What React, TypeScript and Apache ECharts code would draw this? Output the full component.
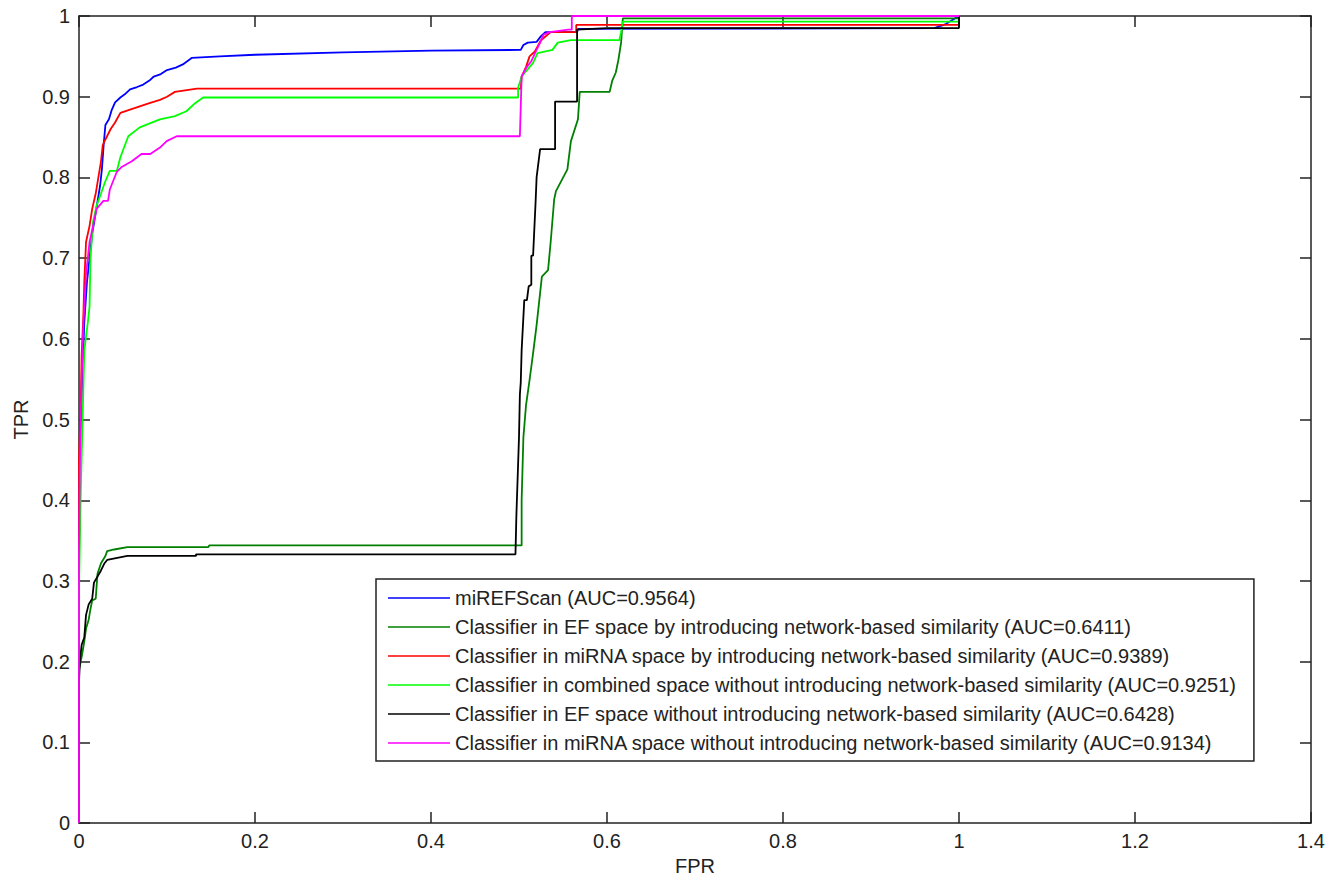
import React, { useEffect, useRef } from "react";
import * as echarts from "echarts";

// ---- Data (FPR, TPR) ----
const seriesNames = [
  "miREFScan (AUC=0.9564)",
  "Classifier in EF space by introducing network-based similarity (AUC=0.6411)",
  "Classifier in miRNA space by introducing network-based similarity (AUC=0.9389)",
  "Classifier in combined space without introducing network-based similarity (AUC=0.9251)",
  "Classifier in EF space without introducing network-based similarity (AUC=0.6428)",
  "Classifier in miRNA space without introducing network-based similarity (AUC=0.9134)",
];
const seriesColors = ["#0000ff", "#008000", "#ff0000", "#00ff00", "#000000", "#ff00ff"];

const miREFScan = [
  [0, 0], [0, 0.42], [0.002, 0.5], [0.004, 0.56], [0.006, 0.62], [0.009, 0.67], [0.012, 0.7],
  [0.015, 0.73], [0.018, 0.75], [0.021, 0.77], [0.024, 0.79], [0.026, 0.81], [0.028, 0.84],
  [0.03, 0.865], [0.034, 0.872], [0.037, 0.883], [0.041, 0.893], [0.047, 0.899], [0.052, 0.903],
  [0.058, 0.909], [0.066, 0.912], [0.073, 0.915], [0.08, 0.92], [0.085, 0.925], [0.093, 0.928],
  [0.1, 0.933], [0.11, 0.936], [0.118, 0.94], [0.128, 0.948], [0.16, 0.95], [0.2, 0.952],
  [0.3, 0.955], [0.4, 0.957], [0.502, 0.958], [0.505, 0.964], [0.51, 0.967], [0.52, 0.968],
  [0.525, 0.975], [0.53, 0.98], [0.566, 0.98], [0.567, 0.984], [0.972, 0.985], [0.985, 0.99], [1, 1],
];
const efNetwork = [
  [0, 0], [0, 0.19], [0.002, 0.2], [0.004, 0.212], [0.006, 0.225], [0.008, 0.241], [0.011, 0.252],
  [0.013, 0.265], [0.015, 0.276], [0.019, 0.278], [0.021, 0.309], [0.025, 0.322], [0.03, 0.331],
  [0.032, 0.337], [0.04, 0.339], [0.055, 0.342], [0.147, 0.342], [0.148, 0.344], [0.503, 0.344],
  [0.503, 0.4], [0.505, 0.478], [0.508, 0.518], [0.512, 0.549], [0.516, 0.582], [0.52, 0.617],
  [0.526, 0.677], [0.533, 0.685], [0.536, 0.72], [0.54, 0.773], [0.542, 0.783], [0.555, 0.81],
  [0.559, 0.845], [0.567, 0.872], [0.569, 0.906], [0.603, 0.906], [0.606, 0.92], [0.61, 0.93],
  [0.613, 0.946], [0.616, 0.967], [0.618, 0.997], [1, 0.997], [1, 1],
];
const mirnaNetwork = [
  [0, 0], [0, 0.45], [0.002, 0.52], [0.003, 0.58], [0.005, 0.63], [0.006, 0.67], [0.008, 0.72],
  [0.012, 0.74], [0.015, 0.761], [0.019, 0.78], [0.022, 0.8], [0.025, 0.82], [0.027, 0.84],
  [0.03, 0.847], [0.036, 0.86], [0.041, 0.868], [0.047, 0.88], [0.058, 0.884], [0.069, 0.888],
  [0.08, 0.892], [0.092, 0.896], [0.1, 0.9], [0.109, 0.906], [0.134, 0.91], [0.502, 0.91],
  [0.503, 0.925], [0.508, 0.937], [0.512, 0.95], [0.518, 0.956], [0.525, 0.97], [0.536, 0.98],
  [0.565, 0.98], [0.565, 0.989], [1, 0.989], [1, 1],
];
const combinedNoNetwork = [
  [0, 0], [0, 0.29], [0.002, 0.41], [0.004, 0.497], [0.006, 0.585], [0.01, 0.62], [0.012, 0.64],
  [0.013, 0.7], [0.016, 0.745], [0.02, 0.765], [0.025, 0.78], [0.0295, 0.794], [0.035, 0.808],
  [0.043, 0.808], [0.047, 0.825], [0.056, 0.851], [0.069, 0.862], [0.092, 0.872], [0.109, 0.876],
  [0.122, 0.882], [0.132, 0.892], [0.141, 0.899], [0.499, 0.899], [0.499, 0.911], [0.503, 0.925],
  [0.516, 0.942], [0.521, 0.954], [0.538, 0.958], [0.544, 0.967], [0.559, 0.97], [0.614, 0.97],
  [0.616, 0.98], [0.618, 0.993], [1, 0.993], [1, 1],
];
const efNoNetwork = [
  [0, 0], [0, 0.175], [0.001, 0.2], [0.003, 0.221], [0.006, 0.23], [0.008, 0.258], [0.011, 0.271],
  [0.015, 0.278], [0.017, 0.298], [0.025, 0.313], [0.029, 0.322], [0.032, 0.326], [0.055, 0.331],
  [0.133, 0.331], [0.133, 0.333], [0.496, 0.333], [0.497, 0.38], [0.5, 0.478], [0.501, 0.531],
  [0.502, 0.546], [0.503, 0.586], [0.506, 0.648], [0.509, 0.648], [0.511, 0.665], [0.514, 0.667],
  [0.514, 0.703], [0.516, 0.703], [0.519, 0.773], [0.52, 0.8], [0.524, 0.835], [0.541, 0.835],
  [0.541, 0.894], [0.566, 0.894], [0.566, 0.983], [0.6, 0.985], [1, 0.985], [1, 1],
];
const mirnaNoNetwork = [
  [0, 0], [0, 0.33], [0.001, 0.45], [0.003, 0.55], [0.005, 0.62], [0.008, 0.68], [0.012, 0.72],
  [0.016, 0.74], [0.02, 0.761], [0.0277, 0.771], [0.033, 0.771], [0.035, 0.785], [0.043, 0.807],
  [0.0485, 0.813], [0.06, 0.82], [0.071, 0.829], [0.081, 0.829], [0.092, 0.837], [0.0996, 0.845],
  [0.111, 0.851], [0.501, 0.851], [0.503, 0.925], [0.509, 0.937], [0.514, 0.944], [0.52, 0.958],
  [0.524, 0.967], [0.528, 0.977], [0.535, 0.98], [0.556, 0.983], [0.56, 0.983], [0.56, 1], [1, 1],
];
const seriesData = [miREFScan, efNetwork, mirnaNetwork, combinedNoNetwork, efNoNetwork, mirnaNoNetwork];

const xTicks = { min: 0, max: 1.4, interval: 0.2 };
const yTicks = { min: 0, max: 1, interval: 0.1 };

const FONT = "Liberation Sans, Arial, sans-serif";
const INK = "#222";

export default function App() {
  const ref = useRef<HTMLDivElement>(null);
  useEffect(() => {
    if (!ref.current) return;
    const chart = echarts.init(ref.current, null, { renderer: "svg" });
    const axisCommon = {
      type: "value",
      axisLine: { show: true, onZero: false, lineStyle: { color: INK, width: 1.5 } },
      axisTick: { show: true, inside: true, length: 11, lineStyle: { color: INK, width: 1.5 } },
      splitLine: { show: false },
    };
    chart.setOption({
      animation: false,
      backgroundColor: "#ffffff",
      textStyle: { fontFamily: FONT },
      grid: { left: 79, right: 23, top: 16, bottom: 53, containLabel: false },
      legend: {
        orient: "vertical",
        left: 376,
        top: 579,
        data: seriesNames,
        icon: "rect",
        itemWidth: 62,
        itemHeight: 1.5,
        itemGap: 9,
        padding: [9, 18, 8, 12],
        borderColor: INK,
        borderWidth: 1.5,
        backgroundColor: "#ffffff",
        selectedMode: false,
        textStyle: { fontFamily: FONT, fontSize: 20, color: INK, lineHeight: 20 },
      },
      xAxis: [
        {
          ...axisCommon,
          ...xTicks,
          position: "bottom",
          name: "FPR",
          nameLocation: "middle",
          nameGap: 32,
          nameTextStyle: { fontFamily: FONT, fontSize: 20, color: INK },
          axisLabel: { fontFamily: FONT, fontSize: 20, color: INK, margin: 8 },
        },
        {
          ...axisCommon,
          ...xTicks,
          position: "top",
          axisLabel: { show: false },
        },
      ],
      yAxis: [
        {
          ...axisCommon,
          ...yTicks,
          position: "left",
          name: "TPR",
          nameLocation: "middle",
          nameGap: 48,
          nameTextStyle: { fontFamily: FONT, fontSize: 20, color: INK },
          axisLabel: { fontFamily: FONT, fontSize: 20, color: INK, margin: 9 },
        },
        {
          ...axisCommon,
          ...yTicks,
          position: "right",
          axisLabel: { show: false },
        },
      ],
      series: seriesNames.map((name, i) => ({
        name,
        type: "line",
        xAxisIndex: 0,
        yAxisIndex: 0,
        data: seriesData[i],
        symbol: "none",
        showSymbol: false,
        color: seriesColors[i],
        lineStyle: { color: seriesColors[i], width: 1.8 },
        z: 2 + i,
      })),
    });
    return () => chart.dispose();
  }, []);
  return (
    <div
      ref={ref}
      style={{ position: "fixed", left: 0, top: 0, width: 1334, height: 881, background: "#fff" }}
    />
  );
}
